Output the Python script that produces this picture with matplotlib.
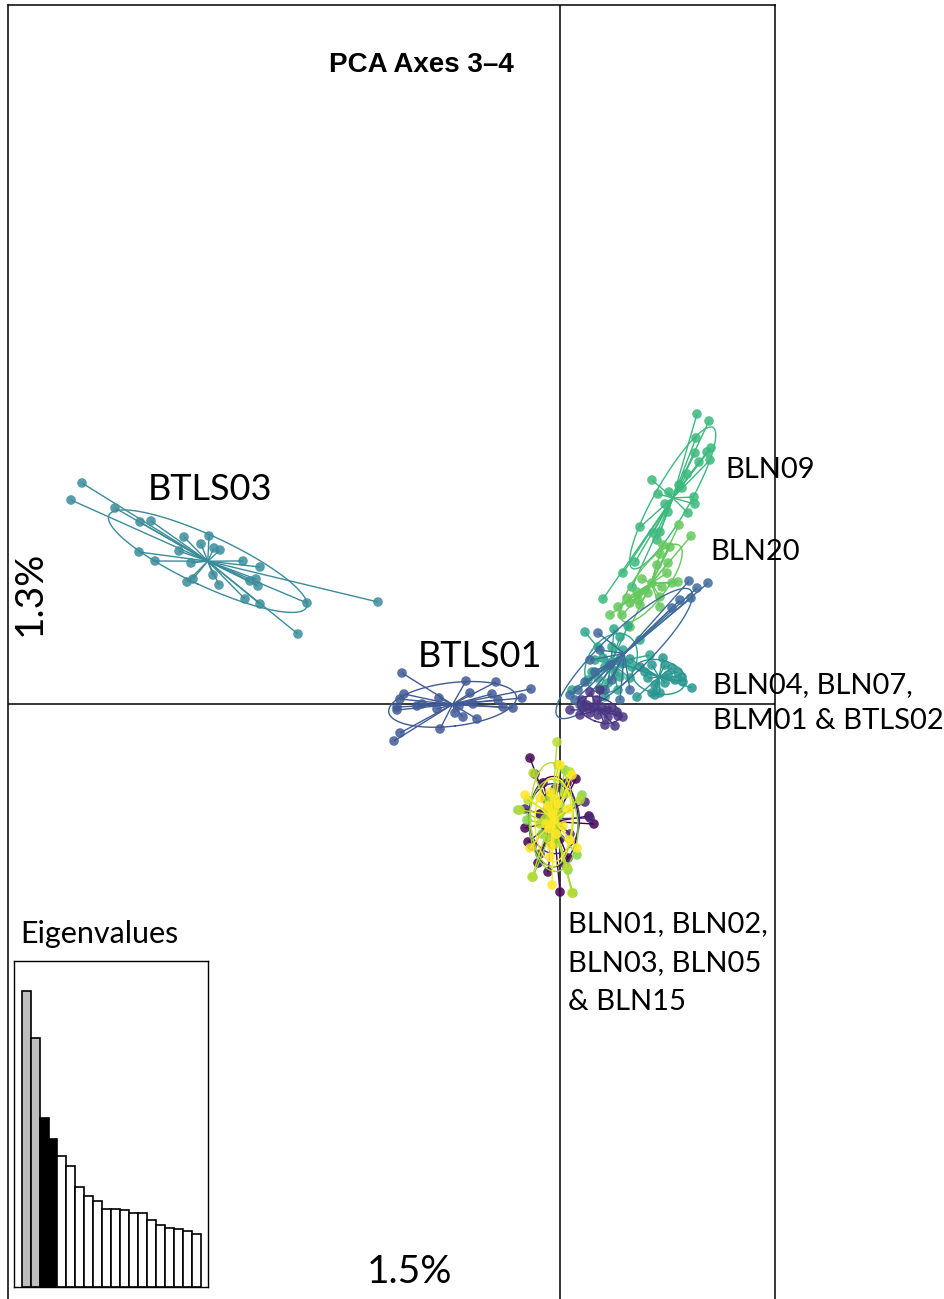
import numpy as np
import matplotlib
matplotlib.use("Agg")
import matplotlib.pyplot as plt
from matplotlib.collections import LineCollection

# PCA scores (axis 3, axis 4) per population
btls03 = [(-4.78, 2.21), (-4.89, 2.04), (-4.45, 1.96), (-4.20, 1.82), (-4.09, 1.83),
          (-3.76, 1.67), (-3.51, 1.68), (-3.59, 1.60), (-3.46, 1.56), (-3.40, 1.54),
          (-3.81, 1.53), (-4.21, 1.52), (-4.05, 1.43), (-3.69, 1.41), (-3.17, 1.43),
          (-3.00, 1.37), (-3.47, 1.29), (-3.67, 1.25), (-3.73, 1.22), (-3.41, 1.19),
          (-3.10, 1.23), (-3.04, 1.25), (-3.02, 1.18), (-3.15, 1.05), (-3.00, 1.00),
          (-2.53, 1.01), (-1.82, 1.02), (-2.62, 0.70)]
btls01 = [(-1.58, 0.31), (-0.94, 0.23), (-0.64, 0.22), (-0.29, 0.15), (-0.68, 0.10),
          (-0.90, 0.11), (-1.56, 0.10), (-1.60, 0.05), (-1.21, 0.06), (-0.62, 0.04),
          (-0.38, 0.06), (-1.63, -0.03), (-1.38, 0.00), (-1.23, -0.05), (-0.87, 0.00),
          (-0.57, -0.03), (-0.47, -0.04), (-1.63, -0.06), (-1.05, -0.09), (-0.97, -0.13),
          (-0.83, -0.15), (-1.20, -0.25), (-1.60, -0.29), (-1.66, -0.37), (-1.43, -0.02),
          (-1.01, -0.02)]
bln09 = [(1.37, 2.90), (1.49, 2.83), (1.36, 2.66), (1.51, 2.56), (1.47, 2.52),
         (1.35, 2.51), (1.39, 2.42), (1.50, 2.44), (1.27, 2.30), (0.92, 2.24),
         (1.19, 2.19), (1.22, 2.16), (1.09, 2.12), (0.98, 2.10), (1.34, 2.07),
         (1.05, 2.00), (1.35, 2.00), (1.28, 1.91), (1.08, 1.92), (1.00, 1.72),
         (0.93, 1.71), (0.97, 1.64), (0.75, 1.42), (0.63, 1.31), (0.43, 1.05),
         (0.72, 1.17), (0.80, 1.77)]
bln20 = [(1.19, 1.79), (1.31, 1.68), (1.03, 1.59), (1.10, 1.57), (1.00, 1.50),
         (1.08, 1.41), (0.97, 1.39), (1.07, 1.31), (0.82, 1.25), (0.92, 1.21),
         (1.18, 1.22), (1.12, 1.21), (1.02, 1.17), (0.77, 1.12), (0.88, 1.11),
         (1.00, 1.07), (0.78, 1.04), (0.67, 1.06), (0.58, 0.97), (0.50, 0.89),
         (0.62, 0.89), (0.80, 0.99), (0.70, 1.01), (1.00, 0.97), (0.70, 0.77)]
bln04 = [(0.25, 0.72), (0.54, 0.75), (0.68, 0.78), (0.63, 0.54), (0.35, 0.44),
         (0.43, 0.46), (0.52, 0.42), (0.45, 0.37), (0.32, 0.32), (0.38, 0.26),
         (0.28, 0.24), (0.55, 0.32), (0.60, 0.27), (0.48, 0.21), (0.40, 0.16),
         (0.65, 0.41), (0.72, 0.37), (0.70, 0.26), (0.58, 0.14), (0.45, 0.07),
         (0.52, 0.57), (0.38, 0.57), (0.60, 0.67), (0.80, 0.64), (0.12, 0.14),
         (0.90, 0.49)]
bln07 = [(1.03, 0.46), (0.92, 0.39), (1.05, 0.39), (1.12, 0.36), (1.18, 0.32),
         (1.22, 0.27), (1.15, 0.24), (1.32, 0.16), (1.05, 0.21), (0.95, 0.19),
         (1.00, 0.11), (0.92, 0.11), (0.77, 0.07), (0.85, 0.32), (0.80, 0.37),
         (0.88, 0.26), (1.08, 0.29), (1.23, 0.22), (0.95, 0.09), (0.62, 0.40),
         (0.70, 0.45)]
blm01 = [(1.29, 1.23), (1.48, 1.21), (1.37, 1.16), (1.31, 1.06), (1.20, 1.04),
         (1.12, 0.96), (0.38, 0.71), (0.18, 0.14), (0.25, 0.22), (0.15, 0.04),
         (0.30, 0.44), (0.40, 0.54), (0.35, 0.32), (0.45, 0.14), (0.52, 0.24),
         (0.20, -0.01), (0.60, 0.04), (0.70, 0.14), (0.10, 0.09), (0.50, 0.39)]
btls02 = [(0.10, -0.06), (0.22, 0.04), (0.27, -0.01), (0.33, -0.03), (0.42, -0.03),
          (0.47, -0.06), (0.52, -0.04), (0.57, -0.08), (0.20, -0.11), (0.30, -0.09),
          (0.38, -0.11), (0.48, -0.13), (0.58, -0.12), (0.45, -0.21), (0.55, -0.22),
          (0.63, -0.13), (0.23, -0.04), (0.37, 0.04), (0.40, 0.14), (0.30, 0.12)]
bln01 = [(-0.30, -0.54), (0.16, -0.75), (0.29, -1.12), (0.34, -1.20), (-0.35, -1.24),
         (-0.32, -1.38), (-0.22, -1.59), (0.00, -1.88), (-0.12, -1.68), (0.08, -1.54),
         (0.07, -0.79), (-0.17, -0.79), (-0.10, -1.05), (-0.02, -1.20), (-0.15, -0.95),
         (0.00, -1.35), (-0.20, -1.10), (-0.06, -1.00), (-0.12, -1.15), (-0.04, -1.28),
         (-0.10, -0.92), (-0.08, -1.40), (-0.02, -1.08), (-0.14, -1.25), (-0.06, -1.18)]
bln02 = [(-0.35, -1.05), (-0.25, -0.70), (0.25, -0.98), (0.30, -1.14), (-0.20, -1.50),
         (0.05, -1.60), (-0.05, -0.85), (0.10, -1.30), (-0.12, -1.22), (-0.28, -1.42),
         (-0.10, -1.02), (-0.04, -1.12), (-0.08, -1.30), (-0.12, -0.95), (-0.06, -1.22),
         (-0.02, -0.98)]
bln03 = [(-0.42, -1.06), (0.17, -1.51), (0.08, -1.66), (0.13, -1.89), (0.22, -0.91),
         (-0.33, -1.16), (-0.27, -1.73), (0.05, -0.66), (-0.10, -1.15), (0.00, -1.00),
         (-0.18, -1.30), (-0.08, -1.08), (-0.04, -1.20), (-0.12, -0.96), (-0.06, -1.32),
         (-0.10, -1.24), (-0.02, -1.12), (-0.07, -0.90)]
bln05 = [(-0.03, -0.38), (-0.27, -0.69), (0.10, -0.68), (-0.40, -1.06), (0.20, -0.96),
         (-0.28, -1.73), (0.07, -1.63), (0.12, -1.89), (-0.32, -0.96), (-0.02, -0.61),
         (-0.10, -1.00), (-0.05, -1.25), (-0.15, -1.15), (0.00, -1.10), (-0.12, -1.35),
         (-0.20, -1.20), (0.05, -0.90), (-0.07, -1.08), (-0.11, -1.18), (-0.03, -1.30),
         (-0.09, -0.92), (-0.05, -1.40), (-0.13, -1.05)]
bln15 = [(0.12, -0.71), (0.00, -0.61), (-0.35, -0.91), (0.17, -1.44), (-0.08, -1.81),
         (0.10, -1.36), (-0.20, -0.94), (-0.30, -1.44), (-0.10, -1.53), (-0.08, -1.10),
         (-0.02, -1.00), (-0.14, -1.20), (0.03, -1.22), (-0.10, -0.88), (0.08, -1.05),
         (-0.06, -1.16), (-0.12, -1.02), (-0.04, -1.30), (-0.09, -1.42), (-0.05, -0.95),
         (-0.11, -1.25)]

pops = [btls03, btls01, bln09, bln20, bln04, bln07, blm01, btls02,
        bln01, bln02, bln03, bln05, bln15]
pop_cols = ["#3a8c9b", "#415a96", "#3cb97d", "#64c85c", "#2ca88a", "#29968f",
            "#3e6b9b", "#4a3583", "#440154", "#482878", "#86d549", "#b8dc2e", "#fde725"]

eig = [2.62, 2.21, 1.50, 1.31, 1.16, 1.07, 0.89, 0.81, 0.76, 0.69,
       0.69, 0.68, 0.66, 0.66, 0.59, 0.55, 0.52, 0.51, 0.50, 0.47]
eig_cols = ["#bebebe", "#bebebe", "black", "black"] + ["white"] * 16


def ellipse(x, y, c=1.5):
    cov = np.cov(x, y, bias=True)
    vals, vecs = np.linalg.eigh(cov)
    t = np.linspace(0, 2 * np.pi, 120)
    e = vecs @ (c * np.sqrt(vals)[:, None] * np.vstack([np.cos(t), np.sin(t)]))
    return x.mean() + e[0], y.mean() + e[1]


fig = plt.figure(figsize=(9.45, 12.99), dpi=100)
ax = fig.add_axes([8 / 945, -6 / 1299, 767 / 945, 1300 / 1299])
ax.set_xlim(-5.52, 2.15)
ax.set_ylim(-6.01, 6.99)
ax.set_xticks([])
ax.set_yticks([])
for s in ax.spines.values():
    s.set_linewidth(1.1)
ax.axhline(0, color="black", lw=1.1, zorder=1)
ax.axvline(0, color="black", lw=1.1, zorder=1)

for k, (pts, col) in enumerate(zip(pops, pop_cols)):
    x = np.array([p[0] for p in pts])
    y = np.array([p[1] for p in pts])
    mx, my = x.mean(), y.mean()
    segs = [[(mx, my), (a, b)] for a, b in zip(x, y)]
    ax.add_collection(LineCollection(segs, colors=col, linewidths=1.0, zorder=2 + k))
    ex, ey = ellipse(x, y)
    ax.plot(ex, ey, color=col, lw=1.0, zorder=2 + k)
    ax.scatter(x, y, s=48, color=col, alpha=0.85, edgecolors="none", zorder=2 + k)

lab = dict(family="Lato", color="black")
ax.text(-1.39, 6.39, "PCA Axes 3\u20134", ha="center", va="center",
        fontsize=20, fontweight="bold", family="Liberation Sans")
ax.text(-3.50, 2.15, "BTLS03", ha="center", va="center", fontsize=26, **lab)
ax.text(-0.80, 0.48, "BTLS01", ha="center", va="center", fontsize=26, **lab)
ax.text(1.65, 2.34, "BLN09", ha="left", va="center", fontsize=21, **lab)
ax.text(1.50, 1.52, "BLN20", ha="left", va="center", fontsize=21, **lab)
ax.text(1.53, 0.01, "BLN04, BLN07,\nBLM01 & BTLS02", ha="left", va="center",
        fontsize=21, linespacing=1.5, **lab)
ax.text(0.08, -2.59, "BLN01, BLN02,\nBLN03, BLN05\n& BLN15", ha="left", va="center",
        fontsize=21, linespacing=1.6, **lab)
ax.text(-5.40, -2.30, "Eigenvalues", ha="left", va="center", fontsize=22, **lab)
ax.text(-5.30, 1.11, "1.3%", ha="center", va="center", rotation=90, fontsize=28, **lab)
ax.text(-1.50, -5.68, "1.5%", ha="center", va="center", fontsize=28, **lab)

ins = fig.add_axes([14 / 945, 1 - 1287 / 1299, 194 / 945, 326 / 1299])
ins.bar(range(len(eig)), eig, width=1.0, align="edge", color=eig_cols,
        edgecolor="black", linewidth=1.2)
ins.set_xlim(-0.86, 20.82)
ins.set_ylim(0, 2.89)
ins.set_xticks([])
ins.set_yticks([])
for s in ins.spines.values():
    s.set_linewidth(1.0)

fig.savefig("out.png", dpi=100)
